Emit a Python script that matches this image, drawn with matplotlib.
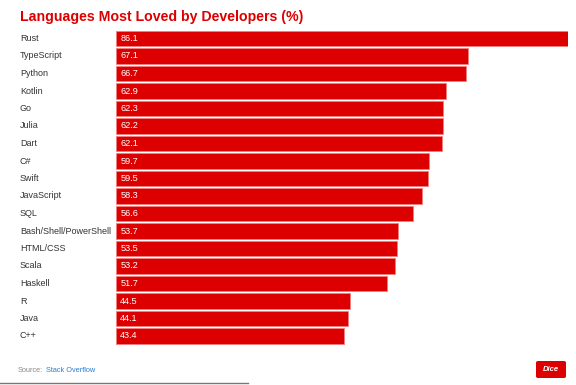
import matplotlib
matplotlib.use("Agg")
import matplotlib.pyplot as plt
from matplotlib.patches import FancyBboxPatch

languages = ["Rust", "TypeScript", "Python", "Kotlin", "Go", "Julia", "Dart", "C#",
             "Swift", "JavaScript", "SQL", "Bash/Shell/PowerShell", "HTML/CSS",
             "Scala", "Haskell", "R", "Java", "C++"]
values = [86.1, 67.1, 66.7, 62.9, 62.3, 62.2, 62.1, 59.7, 59.5, 58.3, 56.6,
          53.7, 53.5, 53.2, 51.7, 44.5, 44.1, 43.4]

plt.rcParams['font.family'] = ['Liberation Sans', 'DejaVu Sans']
W, H = 576, 385
fig = plt.figure(figsize=(W/100, H/100), dpi=100)
red = "#dd0000"

ax = fig.add_axes([116/W, 1-344.75/H, (568-116)/W, 315/H])
ypos = list(range(len(languages)))
ax.barh(ypos, values, height=0.86, color=red, edgecolor="#f08080", linewidth=0.6)
ax.set_xlim(0, 86.1)
ax.set_ylim(len(languages)-0.5, -0.5)
ax.axis("off")
for y, v, lab in zip(ypos, values, languages):
    ax.annotate(f"{v:.1f}", (0, y), xytext=(3, 0), textcoords="offset points",
                va="center", ha="left", color="white", fontsize=6.6)
    ax.annotate(lab, (0, y), xytext=(20, y), textcoords=("figure pixels", "data"),
                va="center", ha="left", color="#333333", fontsize=6.5,
                xycoords="data")

fig.text(20/W, 1-17/H, "Languages Most Loved by Developers (%)", fontsize=10.2,
         fontweight="bold", color=red, va="center", ha="left")
fig.text(18/W, 1-370/H, "Source:", fontsize=5.3, color="#888888",
         va="center", ha="left")
fig.text(46/W, 1-370/H, "Stack Overflow", fontsize=5.3, color="#2a7fd4",
         va="center", ha="left")

# Dice logo
logo = FancyBboxPatch((536/W, 1-378/H), 30/W, 17/H, boxstyle="round,pad=0,rounding_size=0.004",
                      transform=fig.transFigure, facecolor=red, edgecolor="none")
fig.patches.append(logo)
fig.text(551/W, 1-369.5/H, "Dice", fontsize=5.5, color="white", fontweight="bold",
         fontstyle="italic", va="center", ha="center")
fig.add_artist(plt.Line2D([0, 248/W], [1-383/H, 1-383/H], transform=fig.transFigure,
                          color="#777777", linewidth=1))

fig.savefig("out.png", dpi=100)
